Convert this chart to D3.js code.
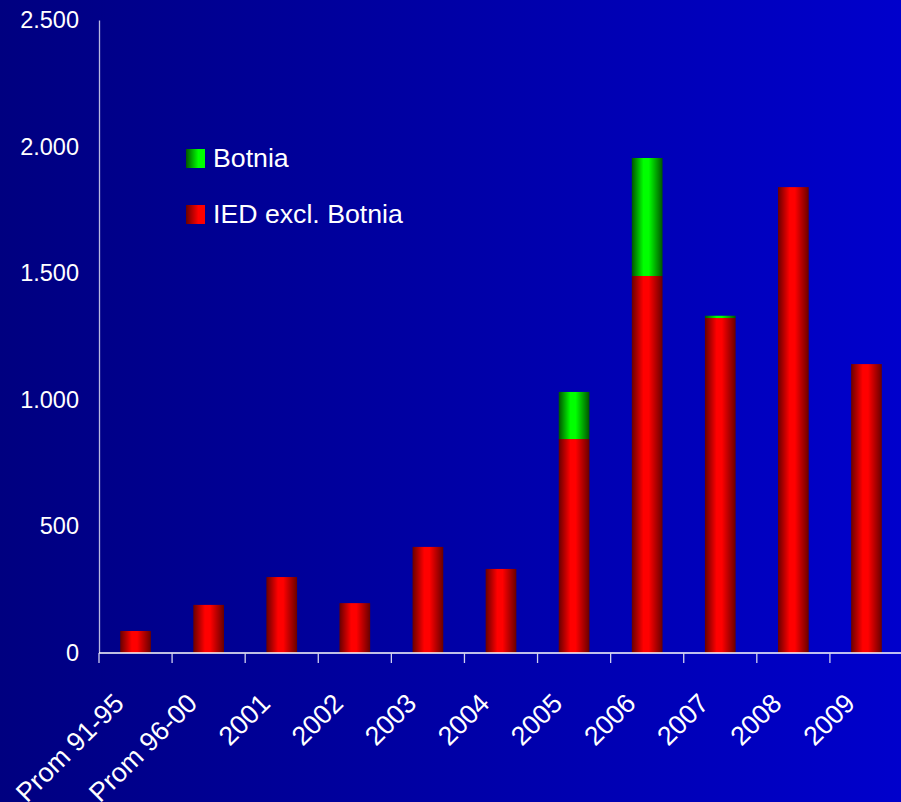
<!DOCTYPE html>
<html><head><meta charset="utf-8">
<script src="https://cdn.jsdelivr.net/npm/d3@7"></script>
<style>html,body{margin:0;padding:0;background:#000080;}svg{display:block;}</style>
</head><body>
<svg id="c" width="901" height="802"></svg>
<script>
const categories = ["Prom 91-95","Prom 96-00","2001","2002","2003","2004","2005","2006","2007","2008","2009"];
const iedExclBotnia = [87,190,300,197,419,332,845,1489,1323,1840,1141];
const botnia = [0,0,0,0,0,0,186,466,9,0,0];
const yTicks = [0,500,1000,1500,2000,2500];
const seriesNames = ["Botnia","IED excl. Botnia"];

const svg = d3.select("#c");
const W = 901, H = 802;
const FONT = "Liberation Sans, Arial, sans-serif";
const defs = svg.append("defs");

const bg = defs.append("linearGradient").attr("id","bg").attr("x1","0").attr("x2","1").attr("y1","0").attr("y2","0");
bg.append("stop").attr("offset","0%").attr("stop-color","#000080");
bg.append("stop").attr("offset","100%").attr("stop-color","#0000cc");

function barGrad(id, dark, bright){
  const g = defs.append("linearGradient").attr("id",id).attr("x1","0").attr("x2","1").attr("y1","0").attr("y2","0");
  g.append("stop").attr("offset","0%").attr("stop-color",dark);
  g.append("stop").attr("offset","38%").attr("stop-color",bright);
  g.append("stop").attr("offset","55%").attr("stop-color",bright);
  g.append("stop").attr("offset","100%").attr("stop-color",dark);
}
barGrad("gRed","#680000","#ff0000");
barGrad("gGreen","#005400","#00ff00");
function legGrad(id, dark, bright){
  const g = defs.append("linearGradient").attr("id",id).attr("x1","0").attr("x2","1").attr("y1","0").attr("y2","0");
  g.append("stop").attr("offset","0%").attr("stop-color",dark);
  g.append("stop").attr("offset","65%").attr("stop-color",bright);
  g.append("stop").attr("offset","100%").attr("stop-color",bright);
}
legGrad("lRed","#680000","#ff0000");
legGrad("lGreen","#005400","#00ff00");

svg.append("rect").attr("width",W).attr("height",H).attr("fill","url(#bg)");

const x0 = 99, x1 = 903, yTop = 20, yBot = 653;
const x = d3.scaleBand().domain(categories).range([x0,x1]).paddingInner(0.58).paddingOuter(0.29);
const xTickScale = d3.scaleBand().domain(categories).range([x0,x1]);
const y = d3.scaleLinear().domain([0,2500]).range([yBot,yTop]);

const fmt = d => d3.format(",")(d).replace(/,/g,".");

// y axis
const yAxis = svg.append("g").attr("transform",`translate(${x0},0)`)
  .call(d3.axisLeft(y).tickValues(yTicks).tickSize(0).tickPadding(20).tickFormat(fmt));
yAxis.select(".domain").attr("stroke","#b8b8e0").attr("stroke-width",1.3);
yAxis.selectAll("text").attr("fill","#ffffff").style("font-family",FONT).style("font-size","23.5px");

// bars
const data = categories.map((c,i)=>({c, ied: iedExclBotnia[i], bot: botnia[i]}));
svg.append("g").selectAll("rect").data(data).join("rect")
  .attr("x",d=>x(d.c)).attr("width",x.bandwidth())
  .attr("y",d=>y(d.ied)).attr("height",d=>y(0)-y(d.ied))
  .attr("fill","url(#gRed)");
svg.append("g").selectAll("rect").data(data.filter(d=>d.bot>0)).join("rect")
  .attr("x",d=>x(d.c)).attr("width",x.bandwidth())
  .attr("y",d=>y(d.ied+d.bot)).attr("height",d=>y(d.ied)-y(d.ied+d.bot))
  .attr("fill","url(#gGreen)");

// x axis
const xg = svg.append("g").attr("transform",`translate(0,${yBot})`);
xg.append("line").attr("x1",x0).attr("x2",W).attr("y1",0).attr("y2",0).attr("stroke","#ffffff").attr("stroke-width",1.5);
const tickXs = categories.map(c=>xTickScale(c));
xg.selectAll("line.tk").data(tickXs).join("line").attr("class","tk")
  .attr("x1",d=>d).attr("x2",d=>d).attr("y1",0).attr("y2",10)
  .attr("stroke","#d0d0f0").attr("stroke-width",1.3);
xg.selectAll("text").data(categories).join("text")
  .attr("transform",c=>`translate(${x(c)+x.bandwidth()/2-10},${52}) rotate(-45)`)
  .attr("text-anchor","end")
  .attr("fill","#ffffff")
  .style("font-family",FONT).style("font-size","26.7px")
  .text(c=>c);

// legend
const leg = svg.append("g");
const legItems = [{n:seriesNames[0], f:"url(#lGreen)", y:149},{n:seriesNames[1], f:"url(#lRed)", y:205}];
leg.selectAll("rect").data(legItems).join("rect")
  .attr("x",186).attr("y",d=>d.y).attr("width",19).attr("height",19).attr("fill",d=>d.f);
leg.selectAll("text").data(legItems).join("text")
  .attr("x",213).attr("y",d=>d.y+18).attr("fill","#ffffff")
  .style("font-family",FONT).style("font-size","26.7px")
  .text(d=>d.n);
</script>
</body></html>
